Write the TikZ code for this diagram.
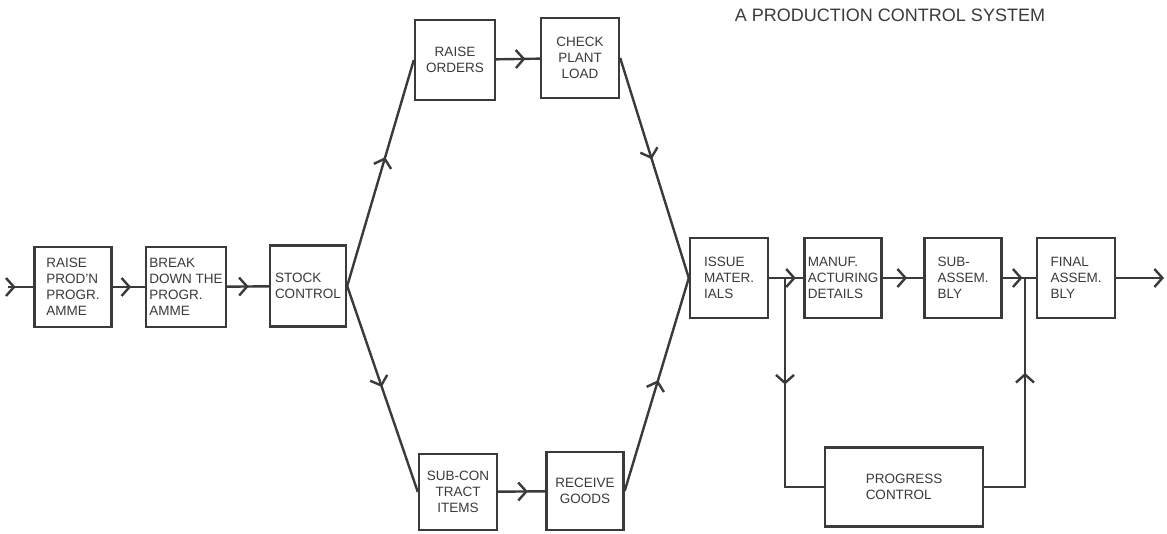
\documentclass[tikz,border=0pt]{standalone}
\usepackage{fontspec}
\setmainfont{Liberation Sans}
\usepackage{tikz}
\usetikzlibrary{arrows.meta,decorations.markings,calc}
\definecolor{inkgray}{RGB}{58,58,58}
\tikzset{
  box/.style={draw=inkgray, line width=2.4pt, fill=white, inner sep=3pt, text=inkgray,
    font=\fontsize{13.5}{16}\selectfont, align=left, minimum width=77pt, minimum height=80pt},
  flow/.style={draw=inkgray, line width=2.4pt},
  midarr/.style={postaction={decorate}, decoration={markings,
    mark=at position #1 with {\arrow{Straight Barb[length=8pt,width=18pt]}}}},
}
\begin{document}
\begin{tikzpicture}[x=1pt,y=1pt]
  \useasboundingbox (0,0) rectangle (1167,533);
  % title
  \node[text=inkgray, font=\fontsize{18}{21}\selectfont] (title) at (890,518) {A PRODUCTION CONTROL SYSTEM};
  % main line, left part
  \node[box] (raise) at (73,246) {RAISE\\PROD'N\\PROGR.\\AMME};
  \node[box, minimum width=78pt] (break) at (186,246) {BREAK\\DOWN THE\\PROGR.\\AMME};
  \node[box, minimum width=76pt, minimum height=81pt] (stock) at (308,247) {STOCK\\CONTROL};
  % upper and lower branches
  \node[box, align=center, minimum width=80pt] (orders) at (455,473) {RAISE\\ORDERS};
  \node[box, align=center, minimum width=78pt] (check) at (580,475) {CHECK\\PLANT\\LOAD};
  \node[box, align=center, minimum width=78pt, minimum height=76pt] (subcon) at (458,41) {SUB-CON\\TRACT\\ITEMS};
  \node[box, align=center, minimum height=78pt] (receive) at (585,42) {RECEIVE\\GOODS};
  % main line, right part
  \node[box, minimum width=78pt] (issue) at (729,255) {ISSUE\\MATER.\\IALS};
  \node[box] (manuf) at (843,255) {MANUF.\\ACTURING\\DETAILS};
  \node[box] (subassem) at (963,255) {SUB-\\ASSEM.\\BLY};
  \node[box, minimum width=78pt] (final) at (1076,255) {FINAL\\ASSEM.\\BLY};
  \node[box, minimum width=158pt, minimum height=79pt] (progress) at (904,46) {PROGRESS\\CONTROL};
  \coordinate (in) at (8,246);
  \coordinate (out) at (1164,255);
  \coordinate (b1) at (785,255);
  \coordinate (b2) at (1025,255);
  % connectors
  \draw[flow, midarr=0.3] (in) -- (raise);
  \draw[flow, midarr=0.57] (raise) -- (break);
  \draw[flow, midarr=0.52] (break) -- (stock);
  \draw[flow, midarr=0.57] (stock.east) -- (orders.west);
  \draw[flow, midarr=0.49] (stock.east) -- (subcon.west);
  \draw[flow, midarr=0.67] (orders) -- (check);
  \draw[flow, midarr=0.63] (subcon) -- (receive);
  \draw[flow, midarr=0.46] (check.east) -- (issue.west);
  \draw[flow, midarr=0.52] (receive.east) -- (issue.west);
  \draw[flow, midarr=0.78] (issue) -- (manuf);
  \draw[flow, midarr=0.6] (manuf) -- (subassem);
  \draw[flow, midarr=0.6] (subassem) -- (final);
  \draw[flow, -{Straight Barb[length=8pt,width=18pt]}] (final) -- (out);
  \draw[flow, midarr=0.43] (b1) |- (progress.west);
  \draw[flow, midarr=0.62] (progress.east) -| (b2);
\end{tikzpicture}
\end{document}
